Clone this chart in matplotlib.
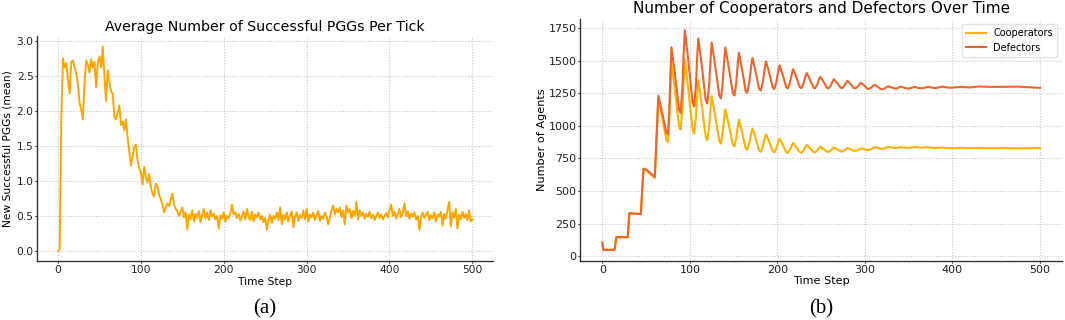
import numpy as np
import matplotlib
matplotlib.use("Agg")
import matplotlib.pyplot as plt

# (a) mean number of new successful PGGs, sampled every 2 ticks
pgg_step = 2
pgg_mean = [
    0.00, 0.02, 1.90, 2.75, 2.62, 2.68, 2.45, 2.25, 2.70, 2.72,
    2.62, 2.55, 2.38, 2.12, 2.02, 1.88, 2.40, 2.72, 2.66, 2.55,
    2.74, 2.62, 2.70, 2.34, 2.68, 2.78, 2.62, 2.92, 2.50, 2.14,
    2.58, 2.42, 2.28, 2.25, 1.92, 1.88, 1.98, 2.08, 1.80, 1.85,
    1.72, 1.88, 1.62, 1.42, 1.22, 1.35, 1.48, 1.52, 1.30, 1.18,
    1.12, 0.95, 1.20, 1.05, 0.98, 1.10, 0.92, 0.82, 0.78, 0.96,
    0.93, 0.80, 0.74, 0.66, 0.55, 0.62, 0.68, 0.64, 0.72, 0.82,
    0.66, 0.60, 0.57, 0.50, 0.56, 0.62, 0.48, 0.55, 0.31, 0.52,
    0.45, 0.58, 0.42, 0.53, 0.47, 0.57, 0.41, 0.52, 0.60, 0.46,
    0.55, 0.44, 0.58, 0.49, 0.53, 0.45, 0.50, 0.32, 0.51, 0.46,
    0.55, 0.42, 0.50, 0.47, 0.54, 0.66, 0.52, 0.55, 0.47, 0.53,
    0.43, 0.50, 0.56, 0.45, 0.60, 0.48, 0.44, 0.56, 0.42, 0.52,
    0.48, 0.55, 0.45, 0.50, 0.41, 0.47, 0.30, 0.44, 0.52, 0.40,
    0.50, 0.46, 0.55, 0.44, 0.62, 0.38, 0.52, 0.45, 0.55, 0.42,
    0.50, 0.56, 0.34, 0.49, 0.55, 0.43, 0.51, 0.47, 0.58, 0.45,
    0.60, 0.42, 0.52, 0.48, 0.55, 0.44, 0.51, 0.57, 0.43, 0.50,
    0.46, 0.55, 0.49, 0.38, 0.47, 0.58, 0.65, 0.52, 0.60, 0.55,
    0.62, 0.48, 0.58, 0.38, 0.65, 0.55, 0.60, 0.47, 0.57, 0.50,
    0.70, 0.45, 0.58, 0.50, 0.55, 0.46, 0.53, 0.49, 0.56, 0.47,
    0.52, 0.44, 0.50, 0.55, 0.47, 0.52, 0.45, 0.50, 0.54, 0.48,
    0.58, 0.66, 0.50, 0.56, 0.46, 0.52, 0.60, 0.48, 0.55, 0.68,
    0.50, 0.57, 0.46, 0.53, 0.49, 0.55, 0.45, 0.50, 0.30, 0.48,
    0.55, 0.47, 0.52, 0.56, 0.44, 0.51, 0.47, 0.55, 0.42, 0.52,
    0.49, 0.56, 0.36, 0.53, 0.46, 0.58, 0.70, 0.35, 0.55, 0.48,
    0.60, 0.32, 0.52, 0.45, 0.56, 0.47, 0.53, 0.44, 0.58, 0.42,
    0.45,
]

# (b) population counts at selected time steps
pop_t = [
    0, 1, 14, 16, 29, 31, 44, 47, 50, 60,
    64, 67, 70.6, 73.2, 75, 76.6, 78,
    79, 82, 85.3, 87.7, 89.5, 91.4, 93.1,
    94.3, 97.3, 100.7, 103.2, 105, 106.9, 108.5,
    109.7, 112.6, 115.9, 118.2, 120, 122, 123.8,
    125, 127.9, 131.3, 133.7, 135.5, 137.5, 139.3,
    140.5, 143.4, 146.8, 149.2, 151, 153, 154.8,
    156, 158.7, 161.7, 163.7, 165.5, 167.9, 170,
    171.5, 174.2, 177.2, 179.2, 181, 183.4, 185.5,
    187, 189.7, 192.7, 194.7, 196.5, 198.9, 201,
    202.5, 205.2, 208.2, 210.2, 212, 214.4, 216.5,
    218, 220.7, 223.7, 225.7, 227.5, 229.9, 232,
    233.5, 236.2, 239.2, 241.2, 243, 245.4, 247.5,
    249, 251.7, 254.7, 256.7, 258.5, 260.9, 263,
    264.5, 267.2, 270.2, 272.2, 274, 276.4, 278.5,
    280, 282.7, 285.5, 287.3, 289, 291.6, 293.9,
    295.5, 298.2, 301, 302.7, 304.5, 307.1, 309.4,
    311, 313.7, 316.5, 318.3, 320, 322.6, 324.9,
    326.5, 331, 335.5, 341, 345.5, 350, 357, 361, 365, 372,
    377, 381, 388, 393, 397,
    410, 420, 430, 445, 460, 475, 490, 500,
]
defectors = [
    102, 48, 48, 145, 145, 330, 322, 672, 665, 610,
    1232, 1143, 1030, 950, 935, 1136, 1437,
    1605, 1453, 1262, 1125, 1100, 1291, 1577,
    1736, 1560, 1338, 1179, 1150, 1307, 1542,
    1672, 1522, 1332, 1197, 1172, 1313, 1524,
    1641, 1512, 1349, 1233, 1212, 1329, 1505,
    1603, 1492, 1352, 1252, 1234, 1333, 1481,
    1563, 1470, 1353, 1269, 1254, 1335, 1456,
    1523, 1448, 1352, 1285, 1272, 1339, 1440,
    1496, 1432, 1352, 1295, 1284, 1339, 1421,
    1466, 1413, 1345, 1297, 1288, 1332, 1399,
    1436, 1393, 1337, 1298, 1291, 1326, 1378,
    1407, 1372, 1327, 1295, 1289, 1316, 1356,
    1378, 1351, 1317, 1293, 1288, 1309, 1341,
    1359, 1339, 1313, 1294, 1291, 1308, 1332,
    1346, 1329, 1307, 1291, 1288, 1301, 1320,
    1331, 1317, 1299, 1286, 1284, 1294, 1308,
    1316, 1306, 1293, 1282, 1281, 1288, 1299,
    1305, 1295, 1286, 1302, 1292, 1287, 1300, 1293, 1289, 1300,
    1294, 1291, 1302, 1297, 1294,
    1300, 1296, 1303, 1300, 1301, 1302, 1297, 1293,
]
cooperators = [
    102, 48, 48, 145, 145, 330, 322, 668, 658, 600,
    1215, 1114, 986, 895, 878, 1059, 1330,
    1480, 1328, 1135, 997, 972, 1134, 1376,
    1511, 1340, 1123, 970, 941, 1064, 1249,
    1351, 1213, 1038, 913, 890, 991, 1144,
    1228, 1119, 981, 883, 865, 944, 1062,
    1128, 1043, 935, 858, 844, 906, 998,
    1049, 980, 892, 830, 818, 867, 940,
    980, 927, 859, 811, 802, 842, 903,
    936, 895, 842, 805, 798, 830, 877,
    903, 870, 828, 799, 793, 816, 850,
    869, 847, 819, 799, 795, 813, 839,
    854, 837, 815, 799, 796, 809, 829,
    840, 828, 813, 802, 800, 810, 826,
    834, 825, 813, 805, 803, 811, 823,
    830, 823, 815, 809, 808, 813, 822,
    826, 823, 818, 816, 815, 821, 831,
    836, 834, 829, 825, 824, 828, 835,
    838, 834, 831, 837, 834, 832, 838, 835, 833, 836,
    832, 830, 834, 831, 829,
    831, 829, 830, 828, 830, 828, 829, 830,
]

# style
grid_kw = dict(color="#c8c8c8", linestyle=(0, (1, 1.5)), linewidth=0.8)


def style_axes(ax, fs):
    ax.spines["top"].set_visible(False)
    ax.spines["right"].set_visible(False)
    for side in ("left", "bottom"):
        ax.spines[side].set_color("#333333")
        ax.spines[side].set_linewidth(1.0)
    ax.tick_params(labelsize=fs, length=1.5, width=0.8, pad=1.2,
                   colors="#333333", labelcolor="#222222")
    ax.grid(True, **grid_kw)
    ax.set_axisbelow(True)


fig = plt.figure(figsize=(10.65, 3.2), dpi=100)

# (a)
ax1 = fig.add_axes([0.035, 0.184, 0.428, 0.7025])
t_a = np.arange(len(pgg_mean)) * pgg_step
ax1.plot(t_a, pgg_mean, color="#FFA500", linewidth=1.4)
ax1.set_xticks([0, 100, 200, 300, 400, 500])
ax1.set_yticks([0.0, 0.5, 1.0, 1.5, 2.0, 2.5, 3.0])
ax1.set_title("Average Number of Successful PGGs Per Tick", fontsize=10.2, pad=3.5)
ax1.set_xlabel("Time Step", fontsize=7.7, labelpad=1.5)
ax1.set_ylabel("New Successful PGGs (mean)", fontsize=7.7, labelpad=2.5)
style_axes(ax1, 7.7)

# (b)
ax2 = fig.add_axes([0.545, 0.185, 0.452, 0.755])
ax2.plot(pop_t, cooperators, color="#FFB000", linewidth=1.5, label="Cooperators")
ax2.plot(pop_t, defectors, color="#F0642A", linewidth=1.5, label="Defectors")
ax2.set_xticks([0, 100, 200, 300, 400, 500])
ax2.set_yticks([0, 250, 500, 750, 1000, 1250, 1500, 1750])
ax2.set_title("Number of Cooperators and Defectors Over Time", fontsize=11, pad=4.5)
ax2.set_xlabel("Time Step", fontsize=8.1, labelpad=1.2)
ax2.set_ylabel("Number of Agents", fontsize=8.1, labelpad=1.2)
style_axes(ax2, 8.0)
leg = ax2.legend(loc="upper right", fontsize=7.0, frameon=True, fancybox=True)
leg.get_frame().set_edgecolor("#dddddd")

# captions under each panel
fig.text(0.249, 0.035, "(a)", fontsize=15, family="Liberation Serif",
         ha="center", va="center")
fig.text(0.771, 0.035, "(b)", fontsize=15, family="Liberation Serif",
         ha="center", va="center")

fig.savefig("out.png", dpi=100)
